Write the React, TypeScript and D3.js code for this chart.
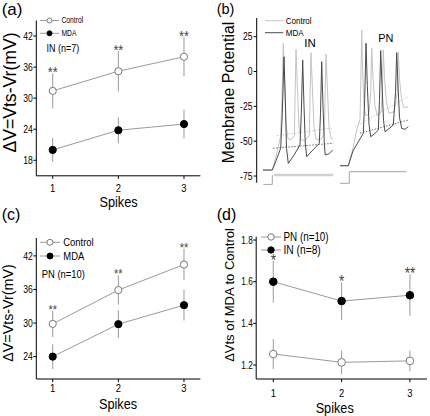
import React from 'react';
import * as d3 from 'd3';

// ---------- data ----------
const spikes = [1, 2, 3];

// (a) IN (n=7)
const aControl = [31.4, 35.2, 38.0];
const aControlErr = [3.4, 3.95, 3.8];
const aMDA = [20.0, 23.8, 25.0];
const aMDAErr = [2.3, 2.5, 2.8];
const aStars = ['**', '**', '**'];
const aTicks = [18, 24, 30, 36, 42];

// (c) PN (n=10)
const cControl = [29.85, 35.9, 40.45];
const cControlErr = [2.35, 2.6, 2.8];
const cMDA = [24.0, 29.8, 33.2];
const cMDAErr = [2.2, 2.5, 2.75];
const cStars = ['**', '**', '**'];
const cTicks = [24, 30, 36, 42];

// (d) ratio MDA / Control
const dPN = [1.253, 1.213, 1.22];
const dPNErr = [0.072, 0.057, 0.05];
const dIN = [1.6, 1.507, 1.535];
const dINErr = [0.1, 0.09, 0.1];
const dStars = ['*', '*', '**'];
const dTicks = [1.2, 1.4, 1.6, 1.8];

// (b) membrane potential traces: [time (ms), voltage (mV)]
const bTicks = [25, 0, -25, -50, -75];
const inMDA: [number, number][] = [
  [5, -70.7], [14.3, -70.7], [18, -64], [22.7, -55.1], [24.3, -30], [26, 10.6], [27.3, -20], [28.5, -55],
  [30.3, -65.9], [36, -60], [42, -52.7], [43.3, -30], [44.7, 8.3], [46, -25], [47.3, -52], [48.7, -61.1],
  [54, -57], [61.3, -51.5], [62.5, -30], [63.7, 7], [65, -25], [66.3, -52], [67.3, -59.9], [71, -59], [74.7, -56.3],
];
const inControl: [number, number][] = [
  [5, -70.7], [14.3, -70.7], [19, -58], [22.5, -47], [24, -20], [25.3, 20.2], [26.5, -5], [28, -38], [30, -48],
  [33, -49], [36.3, -46], [37, -20], [38, 15.9], [39.3, -10], [41, -40], [43, -49], [47, -49.5], [51.3, -46],
  [52, -20], [53, 13.5], [54.3, -10], [56, -40], [58, -48.5], [62, -49], [66.3, -45.5], [67, -20], [68, 12.6],
  [69.3, -10], [71, -40], [73, -48], [75, -48.4],
];
const inMDAThr: [number, number][] = [[15.3, -55.1], [75.3, -51.5]];
const inControlThr: [number, number][] = [[18.7, -46], [75, -40.5]];
const inStim: [number, number][] = [[5.3, -81], [14.3, -81], [14.3, -74.3]];
const inStimBar: [number, number][] = [[16, -74.3], [75.3, -74.3]];

const pnMDA: [number, number][] = [
  [82, -67.6], [90.3, -67.6], [95, -57], [100.3, -50.4], [105.3, -44.3], [106.7, -20], [108, 20.3], [109.3, -10],
  [111, -38], [112.7, -46.8], [116, -45], [120.3, -42], [121.5, -20], [122.7, 15], [124, -10], [125.5, -35],
  [127, -43.2], [131, -41], [135.3, -38.4], [137.5, -15], [138.7, 13.5], [140, -10], [141.5, -33], [143.7, -40.8],
  [147, -41.5], [150.3, -39.6],
];
const pnControl: [number, number][] = [
  [82, -67.6], [90.3, -67.6], [95, -55], [98.7, -42], [102, -34.8], [103, 0], [103.7, 29.8], [104.7, 0],
  [106, -25], [108, -32], [111, -30], [112.7, -15], [113.7, 17], [115, -5], [117, -25], [119.5, -32], [123, -29],
  [124.3, -15], [125.3, 15.5], [126.5, -5], [128.5, -22], [131, -30], [136, -29], [139.3, -15], [140.3, 14],
  [141.5, -5], [143.5, -20], [146, -26], [150.3, -25.2],
];
const pnMDAThr: [number, number][] = [[102, -44.3], [150.3, -34.8]];
const pnControlThr: [number, number][] = [[97, -39.6], [150.3, -18]];
const pnStim: [number, number][] = [[82, -80.2], [91.3, -80.2], [91.3, -71.9], [148.7, -71.9]];

// ---------- helpers ----------
const FONT = "'Liberation Sans', Arial, Helvetica, sans-serif";
const LINE = '#9a9a9a';
const ERR = '#9a9a9a';
const OPEN = '#7a7a7a';

const T = ({ x, y, s, sx = 0.82, a = 'start', fill = '#000', dy, children }: any) => (
  <text transform={`translate(${x},${y}) scale(${sx},1)`} fontSize={s} textAnchor={a} fill={fill} dy={dy}>
    {children}
  </text>
);
const R = ({ x, y, s, children }: any) => (
  <text transform={`translate(${x},${y}) rotate(-90)`} fontSize={s} textAnchor="middle">
    {children}
  </text>
);

function Series({ x, y, values, errs, filled, r }: any) {
  const line = d3.line<number>().x((_, i) => x(spikes[i])).y((v) => y(v));
  return (
    <g>
      {values.map((v: number, i: number) => (
        <line key={'e' + i} x1={x(spikes[i])} x2={x(spikes[i])} y1={y(v - errs[i])} y2={y(v + errs[i])} stroke={ERR} strokeWidth={1} />
      ))}
      <path d={line(values) || ''} fill="none" stroke={LINE} strokeWidth={1} />
      {values.map((v: number, i: number) => (
        <circle key={'c' + i} cx={x(spikes[i])} cy={y(v)} r={r}
          fill={filled ? '#000' : '#fff'} stroke={filled ? '#000' : OPEN} strokeWidth={1} />
      ))}
    </g>
  );
}

function Axes({ x, y, yTicks, fmt, ySize, xSize, xLabelY, yTickDx = 3 }: any) {
  const [x0, x1] = x.range();
  const [yb, yt] = y.range();
  return (
    <g>
      <line x1={x0} x2={x0} y1={yb} y2={yt} stroke="#000" strokeWidth={1} />
      <line x1={x0} x2={x1} y1={yb} y2={yb} stroke="#000" strokeWidth={1} />
      {yTicks.map((t: number) => (
        <g key={'y' + t}>
          <line x1={x0 - 3} x2={x0} y1={y(t)} y2={y(t)} stroke="#000" />
          <T x={x0 - yTickDx - 0.5} y={y(t)} s={ySize} a="end" dy="0.35em">{fmt(t)}</T>
        </g>
      ))}
      {spikes.map((t) => (
        <g key={'x' + t}>
          <line x1={x(t)} x2={x(t)} y1={yb} y2={yb + 3} stroke="#000" />
          <T x={x(t)} y={xLabelY} s={xSize} a="middle">{t}</T>
        </g>
      ))}
    </g>
  );
}

function Stars({ x, y, values, errs, stars, size }: any) {
  return (
    <g>
      {stars.map((s: string, i: number) => (
        <T key={i} x={x(spikes[i])} y={y(values[i] + errs[i]) - 4.5 + 0.575 * size} s={size} a="middle" fill="#444" sx={0.85}>
          {s}
        </T>
      ))}
    </g>
  );
}

function LegendItem({ x1, x2, y, filled, r, label, tx, size, sx = 0.82 }: any) {
  return (
    <g>
      <line x1={x1} x2={x2} y1={y} y2={y} stroke={LINE} />
      <circle cx={(x1 + x2) / 2} cy={y} r={r} fill={filled ? '#000' : '#fff'} stroke={filled ? '#000' : OPEN} />
      <T x={tx} y={y} s={size} dy="0.35em" sx={sx}>{label}</T>
    </g>
  );
}

export default function App() {
  // panel a
  const xa = d3.scaleLinear().domain([0.75, 3.25]).range([36.3, 200.4]);
  const ya = d3.scaleLinear().domain([15, 45]).range([175.8, 20.5]);
  // panel c
  const xc = d3.scaleLinear().domain([0.75, 3.25]).range([36.3, 200.4]);
  const yc = d3.scaleLinear().domain([20, 45.2]).range([379, 238]);
  // panel d
  const xd = d3.scaleLinear().domain([0.75, 3.25]).range([256.2, 427]);
  const yd = d3.scaleLinear().domain([1.133, 1.816]).range([379, 236.7]);
  // panel b
  const xb = d3.scaleLinear().domain([0, 152]).range([258, 410]);
  const yb = d3.scaleLinear().domain([-81, 38.4]).range([184.4, 18]);
  const tl = d3.line<[number, number]>().x((d) => xb(d[0])).y((d) => yb(d[1]));

  const DARK = '#4a4a4a';
  const LIGHT = '#c4c4c4';

  return (
    <svg width={430} height={416} style={{ position: 'absolute', left: 0, top: 0, background: '#fff' }}
      fontFamily={FONT}>
      <rect width={430} height={416} fill="#fff" />

      {/* ---------- (a) ---------- */}
      <T x={1.7} y={14.7} s={17} sx={1}>(a)</T>
      <Axes x={xa} y={ya} yTicks={aTicks} fmt={(t: number) => t} ySize={10.5} xSize={11.5} xLabelY={192} />
      <Series x={xa} y={ya} values={aControl} errs={aControlErr} filled={false} r={3.6} />
      <Series x={xa} y={ya} values={aMDA} errs={aMDAErr} filled={true} r={3.6} />
      <Stars x={xa} y={ya} values={aControl} errs={aControlErr} stars={aStars} size={15} />
      <LegendItem x1={40} x2={59} y={20.5} filled={false} r={2.5} label="Control" tx={61.5} size={8.2} />
      <LegendItem x1={40} x2={59} y={33.3} filled={true} r={2.5} label="MDA" tx={61.5} size={8.2} />
      <T x={46.5} y={51.5} s={11}>IN (n=7)</T>
      <R x={15.8} y={92.5} s={17.6}>ΔV=Vts-Vr(mV)</R>
      <T x={118.5} y={207} s={15.5} a="middle">Spikes</T>

      {/* ---------- (b) ---------- */}
      <T x={216.7} y={13.7} s={14.5} sx={1}>(b)</T>
      <R x={233.5} y={92.5} s={15.8}>Membrane Potential</R>
      <line x1={256.7} x2={256.7} y1={yb(38.4)} y2={yb(-79.8)} stroke="#000" />
      {bTicks.map((t) => (
        <g key={t}>
          <line x1={253.7} x2={256.7} y1={yb(t)} y2={yb(t)} stroke="#000" />
          <T x={252.5} y={yb(t)} s={10.5} a="end" dy="0.35em">{t}</T>
        </g>
      ))}
      <line x1={265} x2={283.3} y1={20.7} y2={20.7} stroke={LIGHT} />
      <T x={285.7} y={20.7} s={9.8} dy="0.35em">Control</T>
      <line x1={265} x2={283.3} y1={32.7} y2={32.7} stroke={DARK} />
      <T x={285.7} y={32.7} s={9.8} dy="0.35em">MDA</T>
      <T x={304.3} y={46.5} s={11.5} sx={1}>IN</T>
      <T x={378.3} y={41.7} s={11.5} sx={0.95}>PN</T>

      <path d={tl(inStim) || ''} fill="none" stroke="#9a9a9a" strokeWidth={0.9} />
      <path d={tl(inStimBar) || ''} fill="none" stroke="#d0d0d0" strokeWidth={2.6} />
      <path d={tl(pnStim) || ''} fill="none" stroke="#9a9a9a" strokeWidth={0.9} />
      <path d={tl(inControlThr) || ''} fill="none" stroke={LIGHT} strokeWidth={0.9} strokeDasharray="1.5,1.5" />
      <path d={tl(pnControlThr) || ''} fill="none" stroke={LIGHT} strokeWidth={0.9} strokeDasharray="1.5,1.5" />
      <path d={tl(inControl) || ''} fill="none" stroke={LIGHT} strokeWidth={1} />
      <path d={tl(pnControl) || ''} fill="none" stroke={LIGHT} strokeWidth={1} />
      <path d={tl(inMDAThr) || ''} fill="none" stroke={DARK} strokeWidth={0.8} strokeDasharray="1.5,1.5" />
      <path d={tl(pnMDAThr) || ''} fill="none" stroke={DARK} strokeWidth={0.8} strokeDasharray="1.5,1.5" />
      <path d={tl(inMDA) || ''} fill="none" stroke={DARK} strokeWidth={1} />
      <path d={tl(pnMDA) || ''} fill="none" stroke={DARK} strokeWidth={1} />

      {/* ---------- (c) ---------- */}
      <T x={1.7} y={219.7} s={16} sx={1}>(c)</T>
      <Axes x={xc} y={yc} yTicks={cTicks} fmt={(t: number) => t} ySize={10.5} xSize={11.5} xLabelY={391.5} />
      <Series x={xc} y={yc} values={cControl} errs={cControlErr} filled={false} r={3.6} />
      <Series x={xc} y={yc} values={cMDA} errs={cMDAErr} filled={true} r={3.6} />
      <Stars x={xc} y={yc} values={cControl} errs={cControlErr} stars={cStars} size={13} />
      <LegendItem x1={40} x2={60} y={242.3} filled={false} r={3} label="Control" tx={63.3} size={11.5} />
      <LegendItem x1={40} x2={60} y={256} filled={true} r={3} label="MDA" tx={63.3} size={11.5} />
      <T x={41.7} y={278} s={11.5}>PN (n=10)</T>
      <R x={12.5} y={313} s={14.3}>ΔV=Vts-Vr(mV)</R>
      <T x={118} y={409} s={15.5} a="middle">Spikes</T>

      {/* ---------- (d) ---------- */}
      <T x={216.7} y={220} s={16} sx={1}>(d)</T>
      <Axes x={xd} y={yd} yTicks={dTicks} fmt={(t: number) => t.toFixed(1)} ySize={10} xSize={11.5} xLabelY={396.5} />
      <Series x={xd} y={yd} values={dPN} errs={dPNErr} filled={false} r={3.8} />
      <Series x={xd} y={yd} values={dIN} errs={dINErr} filled={true} r={3.8} />
      <Stars x={xd} y={yd} values={dIN} errs={dINErr} stars={dStars} size={16} />
      <LegendItem x1={261} x2={281} y={237} filled={false} r={3.2} label="PN (n=10)" tx={283.5} size={12} />
      <LegendItem x1={261} x2={281} y={250} filled={true} r={3.2} label="IN (n=8)" tx={283.5} size={12.5} />
      <R x={233.5} y={295} s={13}>ΔVts of MDA to Control</R>
      <T x={334.7} y={412.7} s={15.5} a="middle">Spikes</T>
    </svg>
  );
}
